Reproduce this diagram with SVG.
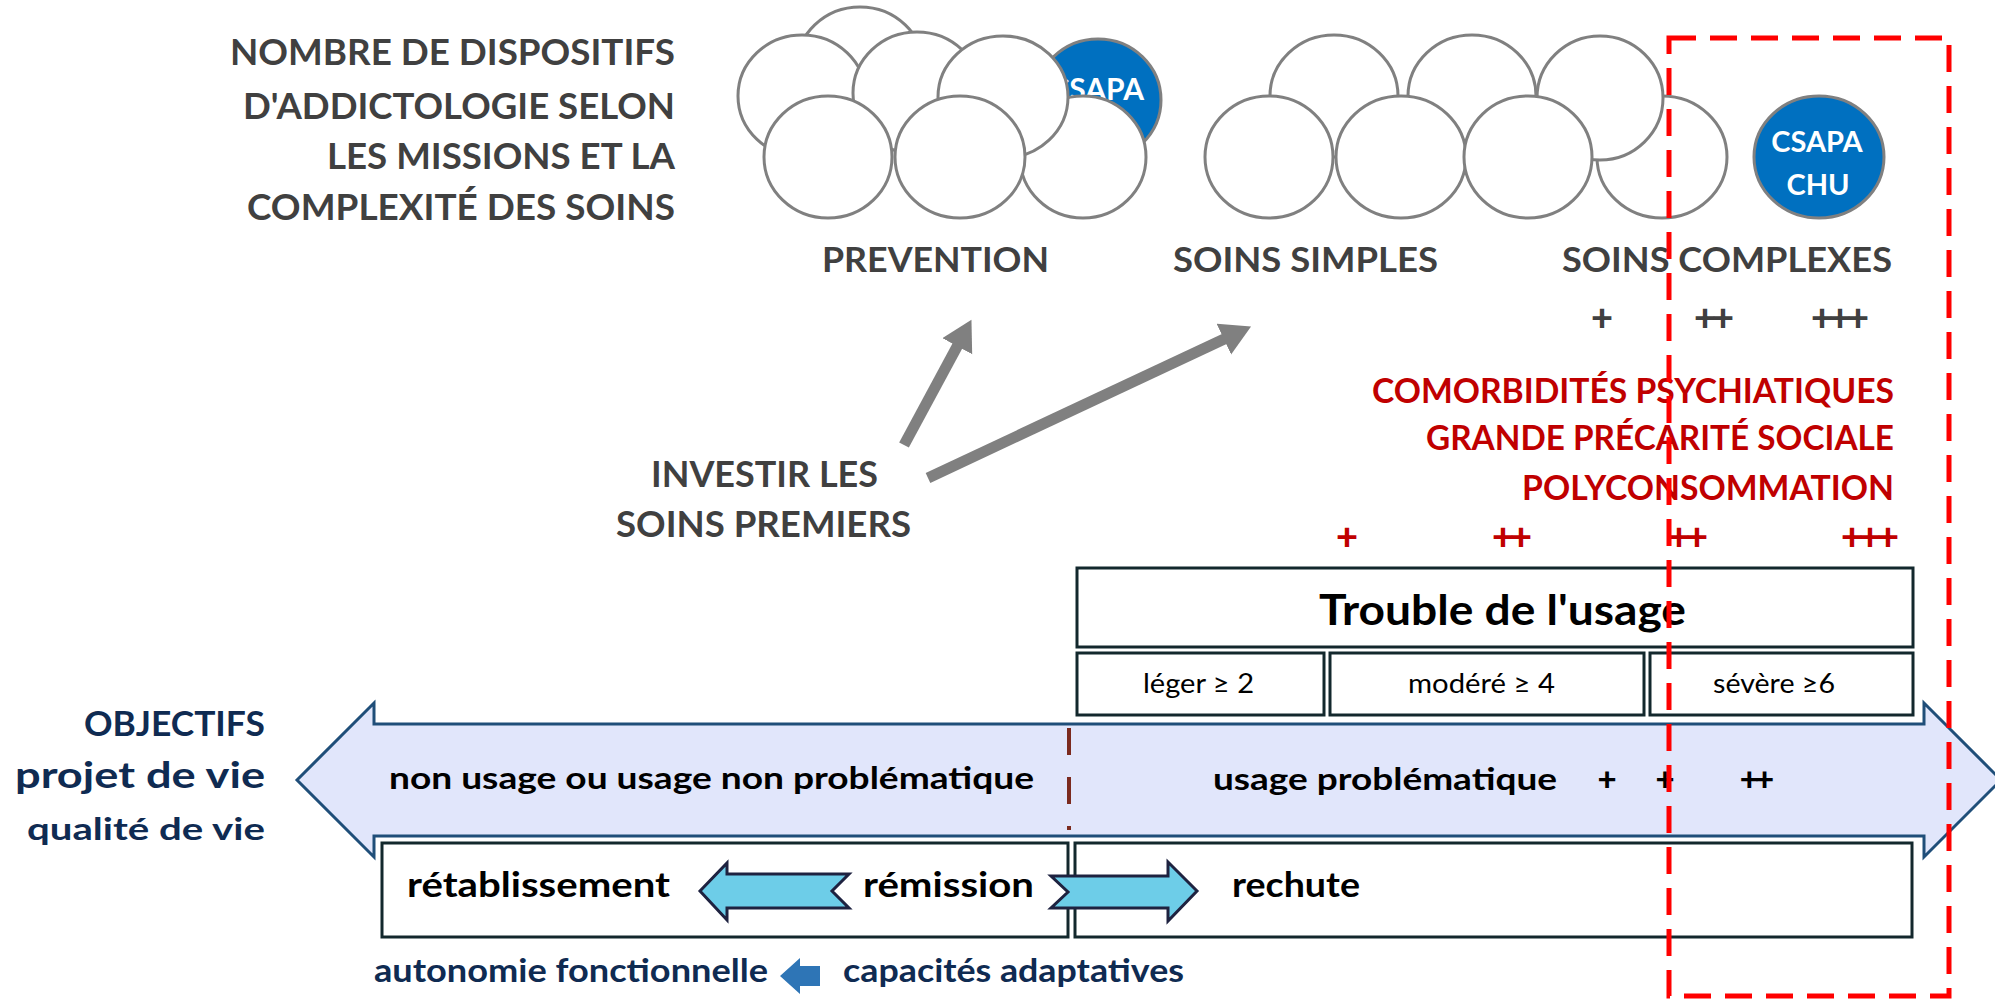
<svg xmlns="http://www.w3.org/2000/svg" width="1995" height="1000" viewBox="0 0 1995 1000">
<defs>
<style>
text{font-family:Lato,"Open Sans","Liberation Sans",sans-serif;font-weight:bold}
.gray{fill:#404040}
.red{fill:#C00000}
.navy{fill:#0F2B52}
.blk{fill:#000}
.reg{font-weight:normal}
.wt{fill:#fff}
.c{fill:#fff;stroke:#808080;stroke-width:3}
.blue{fill:#0070C0;stroke:#808080;stroke-width:3}
.box{fill:#fff;stroke:#13282D;stroke-width:3}
.cyan{fill:#6DCDE8;stroke:#1E2240;stroke-width:3;stroke-linejoin:miter}
.garrow{stroke:#808080;stroke-width:11;fill:none;marker-end:url(#ah)}
.plus{letter-spacing:-4px;font-weight:900}
</style>
<marker id="ah" markerUnits="userSpaceOnUse" markerWidth="32" markerHeight="36" refX="1" refY="17" orient="auto"><path d="M0,0 L30,17 L0,34 z" fill="#808080"/></marker>
</defs>
<rect width="1995" height="1000" fill="#fff"/>

<g id="title" class="gray">
<text x="230" y="65" font-size="37" textLength="445" lengthAdjust="spacingAndGlyphs">NOMBRE DE DISPOSITIFS</text>
<text x="243" y="119" font-size="37" textLength="432" lengthAdjust="spacingAndGlyphs">D'ADDICTOLOGIE SELON</text>
<text x="327" y="169" font-size="37" textLength="348" lengthAdjust="spacingAndGlyphs">LES MISSIONS ET LA</text>
<text x="247" y="220" font-size="37" textLength="428" lengthAdjust="spacingAndGlyphs">COMPLEXITÉ DES SOINS</text>
</g>

<g id="cloud-prevention">
<ellipse class="c" cx="860" cy="68" rx="64" ry="61"/>
<ellipse class="c" cx="802" cy="96" rx="64" ry="61"/>
<ellipse class="c" cx="917" cy="93" rx="64" ry="61"/>
<ellipse class="blue" cx="1098" cy="100" rx="63" ry="61"/>
<text class="wt" x="1144" y="100" font-size="30" text-anchor="end">CSAPA</text>
<ellipse class="c" cx="1083" cy="157" rx="63" ry="61"/>
<ellipse class="c" cx="1003" cy="97" rx="65" ry="61"/>
<ellipse class="c" cx="828" cy="157" rx="64" ry="61"/>
<ellipse class="c" cx="960" cy="157" rx="65" ry="61"/>
<text class="gray" x="822" y="272" font-size="35" textLength="227" lengthAdjust="spacingAndGlyphs">PREVENTION</text>
</g>

<g id="cloud-soins-simples">
<ellipse class="c" cx="1334" cy="96" rx="64" ry="61"/>
<ellipse class="c" cx="1472" cy="96" rx="64" ry="61"/>
<ellipse class="c" cx="1662" cy="157" rx="65" ry="61"/>
<ellipse class="c" cx="1600" cy="98" rx="63" ry="62"/>
<ellipse class="c" cx="1269" cy="157" rx="64" ry="61"/>
<ellipse class="c" cx="1401" cy="157" rx="65" ry="61"/>
<ellipse class="c" cx="1528" cy="157" rx="64" ry="61"/>
<text class="gray" x="1173" y="272" font-size="35" textLength="265" lengthAdjust="spacingAndGlyphs">SOINS SIMPLES</text>
</g>

<g id="csapa-chu">
<ellipse class="blue" cx="1819" cy="157" rx="65" ry="61"/>
<text class="wt" x="1817" y="152" font-size="29" text-anchor="middle">CSAPA</text>
<text class="wt" x="1818" y="195" font-size="29" text-anchor="middle">CHU</text>
</g>

<g id="soins-complexes" class="gray">
<text x="1562" y="272" font-size="35" textLength="330" lengthAdjust="spacingAndGlyphs">SOINS COMPLEXES</text>
<text class="plus" x="1600" y="331" font-size="38" text-anchor="middle">+</text>
<text class="plus" x="1712" y="331" font-size="38" text-anchor="middle">++</text>
<text class="plus" x="1838" y="331" font-size="38" text-anchor="middle">+++</text>
</g>

<g id="facteurs" class="red">
<text x="1372" y="403" font-size="35" textLength="522" lengthAdjust="spacingAndGlyphs">COMORBIDITÉS PSYCHIATIQUES</text>
<text x="1426" y="450" font-size="35" textLength="468" lengthAdjust="spacingAndGlyphs">GRANDE PRÉCARITÉ SOCIALE</text>
<text x="1522" y="500" font-size="35" textLength="372" lengthAdjust="spacingAndGlyphs">POLYCONSOMMATION</text>
<text class="plus" x="1345" y="550" font-size="38" text-anchor="middle">+</text>
<text class="plus" x="1510" y="550" font-size="38" text-anchor="middle">++</text>
<text class="plus" x="1686" y="550" font-size="38" text-anchor="middle">++</text>
<text class="plus" x="1868" y="550" font-size="38" text-anchor="middle">+++</text>
</g>

<g id="investir" class="gray">
<text x="651" y="487" font-size="37" textLength="227" lengthAdjust="spacingAndGlyphs">INVESTIR LES</text>
<text x="616" y="537" font-size="37" textLength="295" lengthAdjust="spacingAndGlyphs">SOINS PREMIERS</text>
</g>

<g id="trouble-usage">
<rect class="box" x="1077" y="568" width="836" height="79"/>
<text class="blk" x="1319" y="625" font-size="42" textLength="367" lengthAdjust="spacingAndGlyphs">Trouble de l'usage</text>
<rect class="box" x="1077" y="653" width="247" height="62"/>
<rect class="box" x="1330" y="653" width="314" height="62"/>
<rect class="box" x="1650" y="653" width="263" height="62"/>
<text class="blk reg" x="1143" y="693" font-size="27" textLength="111" lengthAdjust="spacingAndGlyphs">léger ≥ 2</text>
<text class="blk reg" x="1408" y="693" font-size="27" textLength="147" lengthAdjust="spacingAndGlyphs">modéré ≥ 4</text>
<text class="blk reg" x="1713" y="693" font-size="27" textLength="122" lengthAdjust="spacingAndGlyphs">sévère ≥6</text>
</g>

<g id="objectifs" class="navy">
<text x="84" y="736" font-size="35" textLength="181" lengthAdjust="spacingAndGlyphs">OBJECTIFS</text>
<text x="15" y="788" font-size="36" textLength="250" lengthAdjust="spacingAndGlyphs">projet de vie</text>
<text x="27" y="840" font-size="31" textLength="238" lengthAdjust="spacingAndGlyphs">qualité de vie</text>
</g>

<g id="usage-axis">
<polygon points="297,780 374,703 374,724 1924,724 1924,703 2001,780 1924,857 1924,836 374,836 374,857" fill="#E1E6FB" stroke="#1F4E79" stroke-width="3"/>
<line x1="1069" y1="728" x2="1069" y2="830" stroke="#7B2A1E" stroke-width="4" stroke-dasharray="27 22"/>
<text class="blk" x="389" y="789" font-size="31" textLength="645" lengthAdjust="spacingAndGlyphs">non usage ou usage non problématique</text>
<text class="blk" x="1213" y="790" font-size="31" textLength="344" lengthAdjust="spacingAndGlyphs">usage problématique</text>
<text class="blk plus" x="1605" y="791" font-size="33" text-anchor="middle">+</text>
<text class="blk plus" x="1663" y="791" font-size="33" text-anchor="middle">+</text>
<text class="blk plus" x="1755" y="791" font-size="33" text-anchor="middle">++</text>
</g>

<g id="parcours">
<rect class="box" x="382" y="843" width="686" height="94"/>
<rect class="box" x="1075" y="843" width="837" height="94"/>
<text class="blk" x="407" y="897" font-size="34" textLength="263" lengthAdjust="spacingAndGlyphs">rétablissement</text>
<text class="blk" x="863" y="897" font-size="34" textLength="171" lengthAdjust="spacingAndGlyphs">rémission</text>
<text class="blk" x="1232" y="897" font-size="34" textLength="128" lengthAdjust="spacingAndGlyphs">rechute</text>
</g>

<g id="capacites" class="navy">
<text x="374" y="982" font-size="33" textLength="394" lengthAdjust="spacingAndGlyphs">autonomie fonctionnelle</text>
<text x="843" y="982" font-size="33" textLength="341" lengthAdjust="spacingAndGlyphs">capacités adaptatives</text>
</g>

<g id="connectors">
<line class="garrow" x1="904" y1="445" x2="957.7" y2="345.4"/>
<line class="garrow" x1="928" y1="478" x2="1224.8" y2="338.7"/>
<polygon class="cyan" points="700,891 727,863 727,874 849,874 832,891 849,908 727,908 727,920"/>
<polygon class="cyan" points="1051,876 1168,876 1168,862 1197,891 1168,921 1168,908 1051,908 1068,892"/>
<polygon points="780,976 800,958 800,966 820,966 820,986 800,986 800,994" fill="#2E75B6"/>
</g>

<rect id="zone-complexe" x="1669" y="38" width="280" height="958" fill="none" stroke="#FF0000" stroke-width="5" stroke-dasharray="27 14"/>
</svg>
